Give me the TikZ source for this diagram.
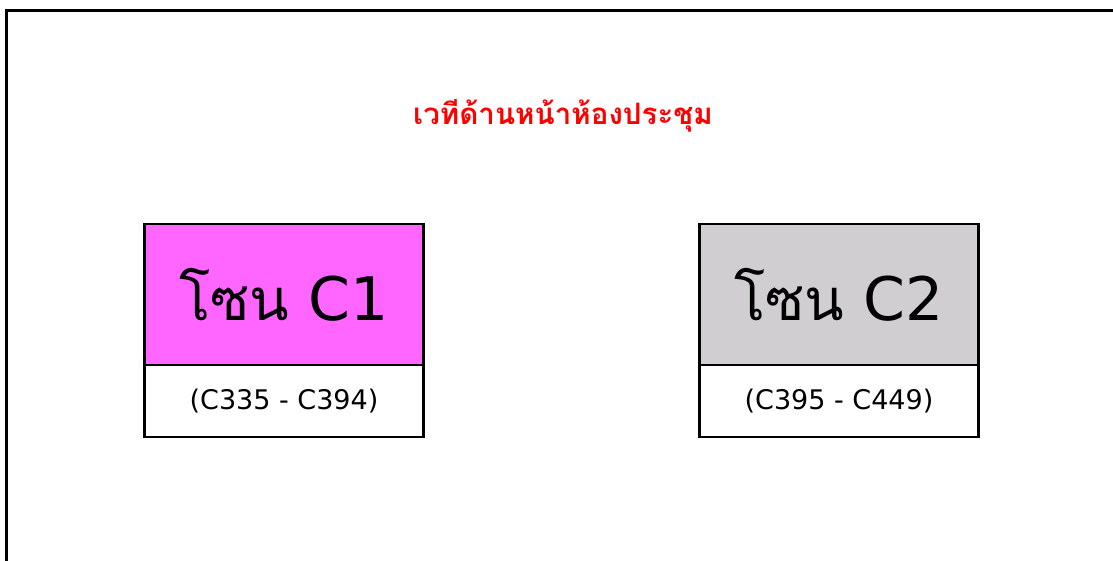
\documentclass[tikz,border=0pt]{standalone}
\usepackage{fontspec}
\usepackage{xcolor}
\usetikzlibrary{positioning}
\newfontfamily\thaifont[Script=Thai]{Loma}
\newfontfamily\latinfont{DejaVu Sans}
\definecolor{zonepink}{HTML}{FF66FF}
\definecolor{zonegray}{HTML}{D0CED0}
\definecolor{stagered}{HTML}{FF0000}
\newcommand{\zonelabel}[1]{{\thaifont\fontsize{58}{58}\selectfont โซน}~#1}
\tikzset{
  zonebox/.style={draw, line width=2.8pt, outer sep=0pt, minimum width=279pt, minimum height=141pt, inner sep=0pt, font=\latinfont\fontsize{60}{60}\selectfont},
  rangebox/.style={draw, line width=2.8pt, outer sep=0pt, fill=white, minimum width=279pt, minimum height=72pt, inner sep=0pt, font=\latinfont\fontsize{27}{27}\selectfont}
}
\begin{document}
\begin{tikzpicture}[x=1pt,y=-1pt]
        % Fix the page size
        \useasboundingbox[fill=white] (0,0) rectangle (1113,561);
        \clip (0,0) rectangle (1113,561);

        % Draw the room frame
        \draw[line width=3.5pt] (6.5,570) -- (6.5,10.5) -- (1120,10.5);

        % Add the stage title
        \node[text=stagered, font=\thaifont\bfseries\fontsize{29.5}{29.5}\selectfont] (stage) at (563,116) {เวทีด้านหน้าห้องประชุม};

        % Plot the zones
        \node[zonebox, fill=zonepink] (zoneC1) at (284,294.5) {\zonelabel{C1}};
        \node[zonebox, fill=zonegray] (zoneC2) at (839,294.5) {\zonelabel{C2}};

        % Add the seat ranges
        \node[rangebox, below=0pt of zoneC1] (rangeC1) {(C335 - C394)};
        \node[rangebox, below=0pt of zoneC2] (rangeC2) {(C395 - C449)};
    \end{tikzpicture}
\end{document}
